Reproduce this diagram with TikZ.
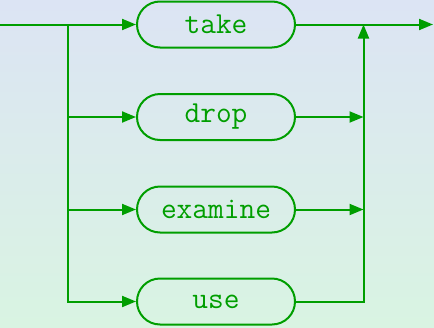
\documentclass[tikz,border=0pt]{standalone}
\usetikzlibrary{arrows.meta}
\definecolor{lineg}{RGB}{0,158,0}
\definecolor{bgtop}{RGB}{220,228,244}
\definecolor{bgbot}{RGB}{217,244,226}
\begin{document}
\begin{tikzpicture}[x=1pt,y=-1pt,
  conn/.style={draw=lineg,line width=2pt},
  arr/.style={conn,-{Triangle[length=14pt,width=11pt]}},
  keyword/.style={draw=lineg,line width=2pt,rounded corners=23pt,
    minimum width=158pt,minimum height=46pt,inner sep=0pt,
    text=lineg,font=\fontsize{30.5}{36}\selectfont\ttfamily}]
\useasboundingbox (0,0) rectangle (434,327);
\shade[top color=bgtop,bottom color=bgbot] (0,0) rectangle (434,327);
\node[keyword] (take) at (216,24.5) {take};
\node[keyword] (drop) at (216,117) {drop};
\node[keyword] (examine) at (216,209.5) {examine};
\node[keyword] (use) at (216,301.5) {use};
\coordinate (in) at (0,24.5);
\coordinate (split) at (68,24.5);
\coordinate (merge) at (363.5,24.5);
\coordinate (out) at (433,24.5);
\draw[arr] (in) -- (take);
\draw[arr] (split) |- (use);
\draw[arr] (split |- drop) -- (drop);
\draw[arr] (split |- examine) -- (examine);
\draw[arr] (use) -| (merge);
\draw[arr] (drop) -- (merge |- drop);
\draw[arr] (examine) -- (merge |- examine);
\draw[arr] (take) -- (out);
\end{tikzpicture}
\end{document}
